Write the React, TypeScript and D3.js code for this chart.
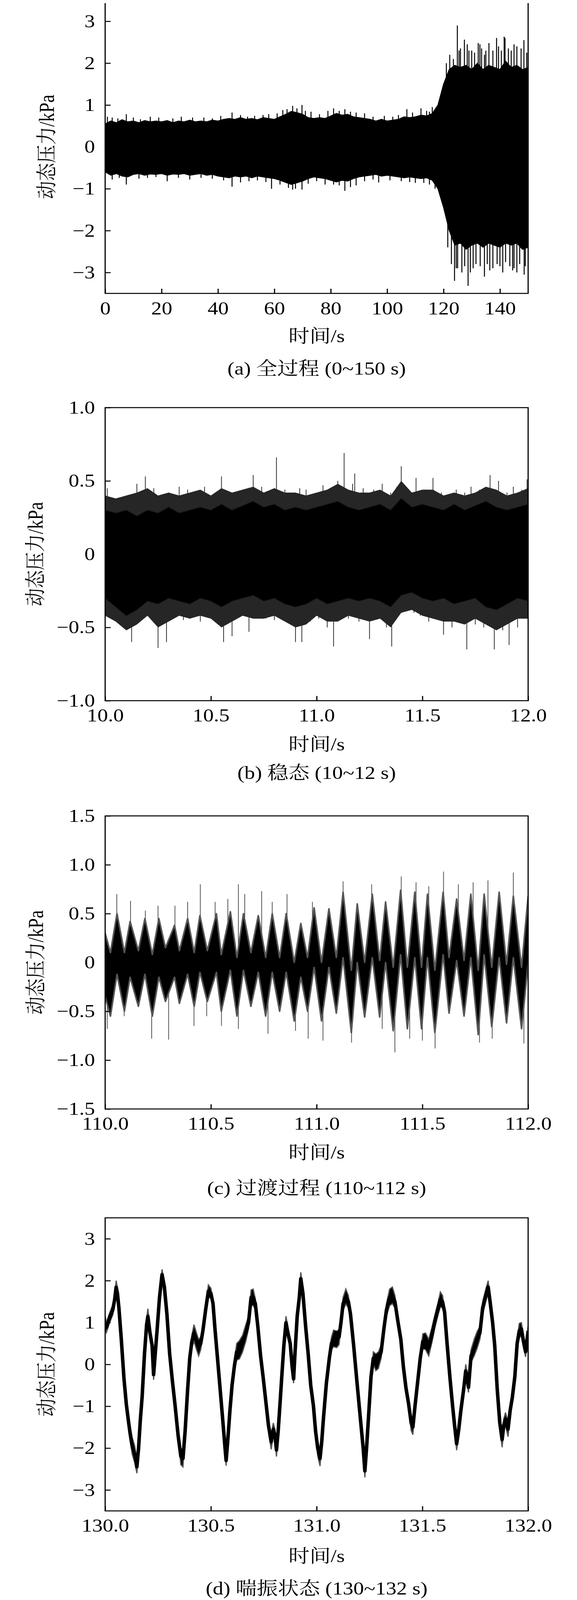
import { useEffect, useRef } from 'react'
import * as d3 from 'd3'

// ---------- (a) full run 0~150 s : band envelope every 2 s ----------
const timeA = [0, 2, 4, 6, 8, 10, 12, 14, 16, 18, 20, 22, 24, 26, 28, 30, 32, 34, 36, 38, 40, 42, 44, 46, 48, 50, 52, 54, 56, 58, 60, 62, 64, 66, 68, 70, 72, 74, 76, 78, 80, 82, 84, 86, 88, 90, 92, 94, 96, 98, 100, 102, 104, 106, 108, 110, 112, 114, 116, 118, 120, 122, 124, 126, 128, 130, 132, 134, 136, 138, 140, 142, 144, 146, 148, 150]
const upperA = [0.55, 0.62, 0.58, 0.65, 0.6, 0.62, 0.58, 0.63, 0.6, 0.62, 0.6, 0.63, 0.58, 0.62, 0.6, 0.64, 0.6, 0.62, 0.6, 0.64, 0.62, 0.66, 0.68, 0.66, 0.7, 0.66, 0.68, 0.65, 0.7, 0.68, 0.66, 0.72, 0.78, 0.85, 0.82, 0.78, 0.7, 0.68, 0.7, 0.68, 0.74, 0.8, 0.76, 0.78, 0.72, 0.7, 0.68, 0.66, 0.62, 0.66, 0.62, 0.64, 0.66, 0.72, 0.7, 0.72, 0.76, 0.74, 0.8, 1.0, 1.5, 1.85, 1.95, 1.9, 1.95, 1.85, 2.0, 1.85, 1.95, 1.9, 1.85, 2.05, 1.9, 1.95, 1.85, 1.9]
const lowerA = [-0.6, -0.68, -0.64, -0.7, -0.72, -0.66, -0.64, -0.68, -0.65, -0.66, -0.64, -0.68, -0.65, -0.66, -0.64, -0.68, -0.66, -0.64, -0.68, -0.66, -0.7, -0.72, -0.74, -0.7, -0.72, -0.7, -0.74, -0.7, -0.72, -0.74, -0.76, -0.8, -0.85, -0.9, -0.86, -0.82, -0.76, -0.72, -0.74, -0.76, -0.8, -0.84, -0.8, -0.82, -0.76, -0.72, -0.7, -0.68, -0.66, -0.7, -0.68, -0.7, -0.72, -0.74, -0.72, -0.74, -0.76, -0.74, -0.8, -1.0, -1.45, -2.0, -2.35, -2.3, -2.45, -2.35, -2.3, -2.4, -2.3, -2.35, -2.4, -2.3, -2.35, -2.3, -2.45, -2.4]
const spikesA = [
  [0.8, 0.72], [2.5, 0.7], [4.5, 0.68], [7.5, 0.78], [10, 0.7], [12.5, 0.66], [16, 0.72], [19, 0.7], [24, 0.68], [27, 0.72], [31, 0.7], [35, 0.7], [38, 0.68], [41, 0.74], [45, 0.82], [48, 0.76], [50.5, 0.72], [53, 0.74], [56, 0.76], [58, 0.78], [61, 0.8], [63, 0.88], [64.5, 0.9], [66.5, 0.98], [68, 0.92], [69.8, 1.0], [71, 0.86], [73, 0.84], [76, 0.78], [79, 0.86], [81, 0.92], [83, 0.86], [85, 0.9], [87, 0.84], [89, 0.82], [92, 0.8], [95, 0.72], [99, 0.74], [102, 0.72], [104, 0.76], [107, 0.9], [109, 0.82], [112, 0.92], [114, 0.86], [115, 0.84], [116, 0.95],
  [121, 2.0], [122.2, 2.2], [123.5, 2.1], [124.9, 2.9], [125.5, 2.3], [126, 2.35], [127.4, 2.56], [128.4, 2.45], [129, 2.3], [130, 2.3], [131, 2.25], [132.3, 2.48], [132.9, 2.45], [133.5, 2.35], [134.5, 2.2], [135, 2.3], [136.1, 2.48], [137.5, 2.3], [138.8, 2.6], [139.5, 2.4], [140.5, 2.3], [141.5, 2.63], [141.8, 2.6], [143, 2.35], [144, 2.3], [145, 2.45], [146, 2.4], [147.5, 2.35], [148.5, 2.55], [149.5, 2.25],
  [2.5, -0.78], [5, -0.74], [7.5, -0.9], [12, -0.76], [15, -0.74], [18, -0.72], [22, -0.82], [26, -0.74], [30, -0.78], [34, -0.74], [38, -0.76], [42, -0.8], [45, -0.95], [48, -0.85], [51, -0.82], [54, -0.8], [57, -0.84], [59, -1.0], [62, -0.9], [65, -0.98], [66.5, -1.02], [67.5, -1.0], [69.8, -1.02], [72, -0.88], [75, -0.82], [78, -0.9], [81, -0.9], [83, -0.92], [85, -1.05], [87, -0.96], [89, -0.92], [92, -0.82], [95, -0.78], [97, -0.85], [101, -0.8], [105, -0.82], [108, -0.84], [110, -0.86], [113, -0.86], [115, -0.9], [117, -1.0],
  [121.5, -2.4], [122.8, -2.8], [123.9, -3.2], [124.5, -2.9], [125, -2.9], [126.5, -3.0], [127.5, -2.85], [128.7, -3.32], [129.5, -3.0], [130.5, -2.9], [131.5, -2.8], [133, -2.85], [134.5, -3.1], [135.5, -2.8], [136.4, -2.95], [137.5, -2.9], [139, -2.8], [140, -2.85], [141, -3.0], [142, -2.75], [143.5, -2.85], [144.5, -2.95], [145, -2.9], [146, -3.0], [147, -2.8], [148.6, -3.05], [149, -2.85],
]

// ---------- (b) steady state 10~12 s : core and fringe envelope every 0.05 s ----------
const timeB = [10.0, 10.05, 10.1, 10.15, 10.2, 10.25, 10.3, 10.35, 10.4, 10.45, 10.5, 10.55, 10.6, 10.65, 10.7, 10.75, 10.8, 10.85, 10.9, 10.95, 11.0, 11.05, 11.1, 11.15, 11.2, 11.25, 11.3, 11.35, 11.4, 11.45, 11.5, 11.55, 11.6, 11.65, 11.7, 11.75, 11.8, 11.85, 11.9, 11.95, 12.0]
const upperB = [0.3, 0.28, 0.3, 0.26, 0.3, 0.28, 0.32, 0.28, 0.3, 0.32, 0.3, 0.34, 0.3, 0.33, 0.36, 0.32, 0.34, 0.3, 0.32, 0.3, 0.32, 0.34, 0.36, 0.32, 0.3, 0.32, 0.34, 0.3, 0.38, 0.32, 0.34, 0.32, 0.3, 0.34, 0.3, 0.33, 0.36, 0.32, 0.3, 0.32, 0.34]
const lowerB = [-0.3, -0.36, -0.42, -0.38, -0.32, -0.34, -0.3, -0.32, -0.34, -0.3, -0.32, -0.36, -0.32, -0.3, -0.28, -0.32, -0.3, -0.34, -0.36, -0.34, -0.3, -0.34, -0.32, -0.3, -0.32, -0.3, -0.32, -0.36, -0.28, -0.26, -0.3, -0.32, -0.3, -0.34, -0.32, -0.3, -0.36, -0.38, -0.34, -0.3, -0.32]
const fringeUpB = [0.4, 0.38, 0.4, 0.42, 0.45, 0.4, 0.42, 0.4, 0.42, 0.44, 0.4, 0.45, 0.42, 0.44, 0.46, 0.42, 0.45, 0.42, 0.42, 0.4, 0.42, 0.44, 0.48, 0.44, 0.42, 0.42, 0.44, 0.4, 0.5, 0.42, 0.44, 0.44, 0.4, 0.42, 0.4, 0.42, 0.46, 0.44, 0.4, 0.42, 0.45]
const fringeLoB = [-0.42, -0.46, -0.52, -0.48, -0.42, -0.5, -0.46, -0.42, -0.44, -0.42, -0.44, -0.5, -0.46, -0.42, -0.44, -0.44, -0.42, -0.46, -0.5, -0.48, -0.42, -0.46, -0.46, -0.42, -0.44, -0.46, -0.44, -0.5, -0.4, -0.38, -0.42, -0.44, -0.46, -0.46, -0.48, -0.44, -0.48, -0.52, -0.48, -0.44, -0.44]
const spikesB = [
  [10.01, 0.45], [10.04, 0.38], [10.08, 0.36], [10.12, 0.32], [10.15, 0.48], [10.19, 0.53], [10.23, 0.45], [10.27, 0.4], [10.3, 0.42], [10.35, 0.46], [10.39, 0.44], [10.43, 0.38], [10.47, 0.46], [10.51, 0.4], [10.55, 0.53], [10.58, 0.4], [10.62, 0.42], [10.66, 0.44], [10.7, 0.54], [10.74, 0.46], [10.78, 0.42], [10.81, 0.66], [10.85, 0.44], [10.88, 0.4], [10.92, 0.45], [10.95, 0.44], [10.99, 0.4], [11.03, 0.47], [11.07, 0.4], [11.1, 0.5], [11.13, 0.69], [11.17, 0.48], [11.18, 0.55], [11.22, 0.45], [11.27, 0.44], [11.31, 0.48], [11.35, 0.42], [11.38, 0.46], [11.4, 0.6], [11.44, 0.42], [11.47, 0.52], [11.51, 0.44], [11.55, 0.52], [11.59, 0.42], [11.62, 0.4], [11.66, 0.44], [11.7, 0.42], [11.73, 0.46], [11.77, 0.44], [11.82, 0.54], [11.86, 0.5], [11.9, 0.42], [11.93, 0.46], [11.97, 0.44], [11.995, 0.51],
  [10.02, -0.38], [10.06, -0.45], [10.1, -0.5], [10.125, -0.6], [10.17, -0.45], [10.21, -0.4], [10.25, -0.64], [10.29, -0.6], [10.33, -0.42], [10.37, -0.45], [10.41, -0.4], [10.45, -0.46], [10.49, -0.42], [10.53, -0.44], [10.56, -0.6], [10.6, -0.56], [10.64, -0.4], [10.68, -0.53], [10.72, -0.42], [10.76, -0.44], [10.8, -0.45], [10.83, -0.4], [10.87, -0.45], [10.9, -0.6], [10.93, -0.6], [10.97, -0.46], [11.01, -0.44], [11.05, -0.5], [11.08, -0.63], [11.12, -0.42], [11.15, -0.44], [11.2, -0.46], [11.25, -0.58], [11.29, -0.44], [11.33, -0.5], [11.355, -0.63], [11.39, -0.4], [11.42, -0.36], [11.46, -0.4], [11.49, -0.42], [11.53, -0.46], [11.57, -0.44], [11.6, -0.55], [11.64, -0.5], [11.68, -0.46], [11.71, -0.65], [11.75, -0.48], [11.79, -0.5], [11.84, -0.65], [11.88, -0.52], [11.91, -0.62], [11.95, -0.5], [11.98, -0.44],
]

// ---------- (c) transition 110~112 s : band at each crest / trough ----------
const timeC = [110.0, 110.025, 110.056, 110.091, 110.118, 110.157, 110.188, 110.223, 110.254, 110.285, 110.328, 110.351, 110.39, 110.421, 110.448, 110.483, 110.526, 110.549, 110.592, 110.623, 110.654, 110.689, 110.724, 110.759, 110.79, 110.825, 110.856, 110.894, 110.925, 110.957, 110.988, 111.023, 111.058, 111.093, 111.125, 111.164, 111.192, 111.227, 111.263, 111.298, 111.326, 111.362, 111.397, 111.429, 111.464, 111.496, 111.524, 111.559, 111.598, 111.626, 111.662, 111.697, 111.729, 111.764, 111.792, 111.828, 111.863, 111.898, 111.93, 111.969, 112.0]
const upperC = [0.3, 0.1, 0.5, 0.1, 0.42, 0.12, 0.45, 0.08, 0.45, 0.15, 0.38, 0.12, 0.45, 0.1, 0.48, 0.12, 0.5, 0.08, 0.52, 0.05, 0.5, 0.1, 0.48, 0.05, 0.5, 0.05, 0.5, 0.0, 0.4, 0.05, 0.56, 0.0, 0.55, 0.05, 0.72, -0.08, 0.6, 0.0, 0.7, 0.02, 0.62, -0.05, 0.74, -0.05, 0.72, -0.05, 0.7, -0.08, 0.72, 0.05, 0.65, 0.02, 0.7, -0.08, 0.7, -0.05, 0.72, -0.02, 0.68, -0.05, 0.68]
const lowerC = [-0.35, -0.55, -0.12, -0.5, -0.15, -0.45, -0.12, -0.55, -0.15, -0.4, -0.15, -0.42, -0.12, -0.45, -0.1, -0.4, -0.1, -0.5, -0.08, -0.55, -0.08, -0.45, -0.1, -0.55, -0.1, -0.5, -0.1, -0.6, -0.15, -0.5, -0.05, -0.6, -0.05, -0.52, 0.05, -0.72, 0.0, -0.56, 0.05, -0.56, 0.0, -0.7, 0.08, -0.68, 0.05, -0.68, 0.05, -0.72, 0.08, -0.52, 0.02, -0.55, 0.05, -0.74, 0.08, -0.66, 0.05, -0.62, 0.05, -0.68, 0.0]
const spikesC = [
  [110.055, 0.7], [110.12, 0.63], [110.19, 0.53], [110.25, 0.58], [110.33, 0.58], [110.39, 0.62], [110.45, 0.8], [110.52, 0.62], [110.58, 0.65], [110.63, 0.8], [110.66, 0.7], [110.74, 0.73], [110.79, 0.62], [110.86, 0.7], [110.98, 0.62], [111.125, 0.83], [111.26, 0.8], [111.4, 0.88], [111.47, 0.82], [111.53, 0.78], [111.6, 0.93], [111.67, 0.8], [111.74, 0.82], [111.81, 0.84], [111.93, 0.92],
  [110.01, -0.68], [110.09, -0.55], [110.22, -0.78], [110.3, -0.79], [110.42, -0.65], [110.48, -0.55], [110.55, -0.65], [110.63, -0.68], [110.77, -0.73], [110.9, -0.7], [110.96, -0.78], [111.03, -0.8], [111.165, -0.82], [111.31, -0.68], [111.37, -0.92], [111.44, -0.78], [111.5, -0.8], [111.56, -0.88], [111.77, -0.82], [111.83, -0.78], [111.98, -0.83],
]

// ---------- (d) surge 130~132 s : centre trace and half-thickness ----------
const timeD = [130.0, 130.006, 130.02, 130.036, 130.045, 130.052, 130.058, 130.065, 130.076, 130.089, 130.1, 130.11, 130.118, 130.128, 130.14, 130.15, 130.158, 130.166, 130.175, 130.186, 130.196, 130.202, 130.212, 130.222, 130.229, 130.236, 130.246, 130.257, 130.269, 130.28, 130.292, 130.305, 130.318, 130.33, 130.345, 130.358, 130.368, 130.378, 130.39, 130.4, 130.41, 130.42, 130.432, 130.442, 130.452, 130.462, 130.475, 130.488, 130.5, 130.51, 130.52, 130.532, 130.545, 130.558, 130.566, 130.572, 130.58, 130.59, 130.6, 130.612, 130.622, 130.635, 130.65, 130.665, 130.678, 130.69, 130.7, 130.71, 130.722, 130.735, 130.748, 130.76, 130.772, 130.785, 130.795, 130.803, 130.81, 130.818, 130.826, 130.835, 130.845, 130.855, 130.862, 130.875, 130.884, 130.891, 130.898, 130.908, 130.918, 130.925, 130.935, 130.948, 130.96, 130.972, 130.985, 130.995, 131.005, 131.016, 131.024, 131.032, 131.046, 131.06, 131.07, 131.08, 131.095, 131.106, 131.115, 131.125, 131.138, 131.15, 131.16, 131.175, 131.191, 131.208, 131.22, 131.228, 131.236, 131.246, 131.257, 131.268, 131.28, 131.292, 131.305, 131.318, 131.33, 131.345, 131.358, 131.37, 131.385, 131.398, 131.41, 131.422, 131.435, 131.447, 131.455, 131.465, 131.478, 131.49, 131.502, 131.515, 131.53, 131.545, 131.56, 131.575, 131.585, 131.595, 131.605, 131.617, 131.63, 131.642, 131.652, 131.662, 131.672, 131.682, 131.695, 131.705, 131.712, 131.718, 131.73, 131.745, 131.76, 131.772, 131.785, 131.8, 131.811, 131.82, 131.832, 131.842, 131.854, 131.866, 131.877, 131.885, 131.893, 131.905, 131.915, 131.925, 131.937, 131.948, 131.958, 131.968, 131.978, 131.988, 132.0]
const centreD = [1.0, 0.88, 1.1, 1.3, 1.55, 1.85, 1.7, 1.35, 0.62, -0.34, -0.95, -1.35, -1.65, -1.95, -2.15, -2.45, -2.0, -1.35, -0.76, 0.25, 0.95, 1.15, 0.75, 0.45, -0.25, 0.2, 0.85, 1.6, 2.15, 1.85, 1.2, 0.25, -0.4, -0.95, -1.7, -2.2, -2.25, -1.6, -0.6, 0.15, 0.55, 0.75, 0.55, 0.4, 0.5, 0.8, 1.3, 1.75, 1.7, 1.45, 0.8, 0.1, -0.67, -1.45, -1.95, -2.3, -1.8, -1.1, -0.5, 0.0, 0.3, 0.35, 0.5, 0.75, 1.0, 1.6, 1.6, 1.45, 0.9, 0.2, -0.35, -0.9, -1.45, -1.85, -1.55, -1.7, -2.05, -1.6, -1.0, -0.3, 0.45, 1.0, 0.8, 0.5, -0.05, -0.35, 0.3, 1.15, 1.6, 2.05, 1.7, 0.9, 0.25, -0.5, -1.0, -1.6, -2.0, -2.25, -1.85, -1.3, -0.45, 0.15, 0.5, 0.62, 0.6, 0.65, 1.0, 1.45, 1.62, 1.5, 1.2, 0.45, -0.44, -1.36, -2.0, -2.55, -2.0, -1.2, -0.3, 0.15, 0.05, 0.1, 0.3, 0.85, 1.3, 1.6, 1.65, 1.5, 1.0, 0.6, -0.05, -0.55, -0.95, -1.4, -1.5, -1.0, -0.4, 0.15, 0.55, 0.55, 0.4, 0.7, 1.05, 1.35, 1.55, 1.5, 1.25, 0.48, -0.3, -0.95, -1.45, -1.9, -1.55, -1.1, -0.6, -0.15, -0.35, -0.55, 0.2, 0.4, 0.6, 0.75, 1.35, 1.65, 1.85, 1.5, 1.0, 0.45, -0.6, -1.4, -1.8, -1.45, -1.3, -1.55, -1.1, -0.8, -0.3, 0.5, 0.8, 0.85, 0.55, 0.3, 0.8]
const spreadD = [0.15, 0.12, 0.12, 0.12, 0.12, 0.15, 0.12, 0.08, 0.06, 0.06, 0.1, 0.15, 0.18, 0.2, 0.2, 0.15, 0.1, 0.08, 0.06, 0.06, 0.15, 0.18, 0.15, 0.1, 0.12, 0.08, 0.06, 0.08, 0.12, 0.08, 0.06, 0.08, 0.12, 0.15, 0.12, 0.2, 0.2, 0.1, 0.08, 0.08, 0.15, 0.2, 0.2, 0.2, 0.15, 0.1, 0.1, 0.15, 0.12, 0.1, 0.08, 0.08, 0.08, 0.1, 0.15, 0.12, 0.1, 0.08, 0.1, 0.15, 0.2, 0.22, 0.2, 0.2, 0.15, 0.18, 0.2, 0.12, 0.08, 0.08, 0.08, 0.1, 0.15, 0.18, 0.15, 0.15, 0.15, 0.1, 0.12, 0.1, 0.12, 0.15, 0.15, 0.12, 0.12, 0.1, 0.08, 0.1, 0.12, 0.15, 0.1, 0.08, 0.1, 0.1, 0.15, 0.15, 0.18, 0.18, 0.12, 0.1, 0.1, 0.12, 0.15, 0.2, 0.2, 0.18, 0.12, 0.15, 0.18, 0.15, 0.1, 0.08, 0.08, 0.08, 0.1, 0.15, 0.1, 0.08, 0.1, 0.15, 0.2, 0.2, 0.15, 0.15, 0.15, 0.2, 0.2, 0.15, 0.1, 0.08, 0.08, 0.1, 0.15, 0.18, 0.18, 0.12, 0.1, 0.1, 0.18, 0.2, 0.2, 0.18, 0.15, 0.15, 0.18, 0.15, 0.1, 0.08, 0.08, 0.12, 0.15, 0.15, 0.12, 0.15, 0.15, 0.15, 0.12, 0.12, 0.15, 0.2, 0.2, 0.15, 0.15, 0.15, 0.15, 0.1, 0.08, 0.08, 0.1, 0.15, 0.18, 0.15, 0.15, 0.18, 0.15, 0.12, 0.1, 0.12, 0.18, 0.15, 0.15, 0.12, 0.12]

// ---------- ticks and labels ----------
const xTicksA = [0, 20, 40, 60, 80, 100, 120, 140]
const xTicksB = [10.0, 10.5, 11.0, 11.5, 12.0]
const xTicksC = [110.0, 110.5, 111.0, 111.5, 112.0]
const xTicksD = [130.0, 130.5, 131.0, 131.5, 132.0]
const yTicksA = [-3, -2, -1, 0, 1, 2, 3]
const yTicksB = [-1.0, -0.5, 0, 0.5, 1.0]
const yTicksC = [-1.5, -1.0, -0.5, 0, 0.5, 1.0, 1.5]
const yTicksD = [-3, -2, -1, 0, 1, 2, 3]
const captions = ['(a) 全过程 (0~150 s)', '(b) 稳态 (10~12 s)', '(c) 过渡过程 (110~112 s)', '(d) 喘振状态 (130~132 s)']
const xLabel = '时间/s'
const yLabel = '动态压力/kPa'

const FONT = "'Times New Roman', 'Liberation Serif', 'Noto Serif CJK SC', 'Noto Sans CJK SC', serif"
const FS = 54
const W = 1476
const H = 4777
// the photographed page is at most 4096 px tall, so the 4777-high layout is fitted into it
const OUT_H = 4096
const LEFT = 269
const RIGHT = 1351
const PH = 875

const minus = (s: string) => s.replace('-', '\u2212')
const fmtInt = (d: number) => minus(String(d))
const fmtY1 = (d: number) => (d === 0 ? '0' : minus(d.toFixed(1)))
const fmtX1 = (d: number) => d.toFixed(1)

export default function App() {
  const svgRef = useRef<SVGSVGElement>(null)

  useEffect(() => {
    const svg = d3.select(svgRef.current)
    svg.selectAll('*').remove()
    svg.append('rect').attr('width', W).attr('height', H).attr('fill', '#fff')

    const panels = [
      { top: 1, xd: [0, 150], yd: [-3.5, 3.5], xt: xTicksA, yt: yTicksA, xf: fmtInt, yf: fmtInt, ylx: 120, xlOff: 127, capOff: 224, kind: 'a' },
      { top: 1217, xd: [10, 12], yd: [-1, 1], xt: xTicksB, yt: yTicksB, xf: fmtX1, yf: fmtY1, ylx: 91, xlOff: 130, capOff: 215, kind: 'b' },
      { top: 2436, xd: [110, 112], yd: [-1.5, 1.5], xt: xTicksC, yt: yTicksC, xf: fmtX1, yf: fmtY1, ylx: 92, xlOff: 130, capOff: 236, kind: 'c' },
      { top: 3636, xd: [130, 132], yd: [-3.5, 3.5], xt: xTicksD, yt: yTicksD, xf: fmtX1, yf: fmtInt, ylx: 120, xlOff: 135, capOff: 232, kind: 'd' },
    ]

    panels.forEach((p, i) => {
      const bottom = p.top + PH
      const x = d3.scaleLinear().domain(p.xd).range([LEFT, RIGHT])
      const y = d3.scaleLinear().domain(p.yd).range([bottom, p.top])
      const g = svg.append('g')

      const clipId = `clip-${p.kind}`
      g.append('clipPath').attr('id', clipId).append('rect')
        .attr('x', LEFT).attr('y', p.top).attr('width', RIGHT - LEFT).attr('height', PH)
      const plot = g.append('g').attr('clip-path', `url(#${clipId})`)

      const drawSpikes = (list: number[][], color: string, w: number) => {
        plot.append('g').selectAll('line').data(list).enter().append('line')
          .attr('x1', (d) => x(d[0])).attr('x2', (d) => x(d[0]))
          .attr('y1', y(0)).attr('y2', (d) => y(d[1]))
          .attr('stroke', color).attr('stroke-width', w)
      }

      if (p.kind === 'a') {
        const area = d3.area<number>().x((d, j) => x(timeA[j])).y0((d, j) => y(lowerA[j])).y1((d) => y(d))
        drawSpikes(spikesA, '#000', 2.5)
        plot.append('path').datum(upperA).attr('d', area).attr('fill', '#000').attr('stroke', '#000').attr('stroke-width', 2)
      }
      if (p.kind === 'b') {
        drawSpikes(spikesB, '#333', 2)
        const fringe = d3.area<number>().x((d, j) => x(timeB[j])).y0((d, j) => y(fringeLoB[j])).y1((d) => y(d))
        plot.append('path').datum(fringeUpB).attr('d', fringe).attr('fill', '#262626')
        const area = d3.area<number>().x((d, j) => x(timeB[j])).y0((d, j) => y(lowerB[j])).y1((d) => y(d))
        plot.append('path').datum(upperB).attr('d', area).attr('fill', '#000').attr('stroke', '#111').attr('stroke-width', 2)
      }
      if (p.kind === 'c') {
        drawSpikes(spikesC, '#555', 2)
        const area = d3.area<number>().x((d, j) => x(timeC[j])).y0((d, j) => y(lowerC[j])).y1((d) => y(d))
        plot.append('path').datum(upperC).attr('d', area).attr('fill', '#000').attr('stroke', '#555').attr('stroke-width', 4)
          .attr('stroke-linejoin', 'round')
      }
      if (p.kind === 'd') {
        const area = d3.area<number>().x((d, j) => x(timeD[j]))
          .y0((d, j) => y(d - spreadD[j])).y1((d, j) => y(d + spreadD[j]))
        plot.append('path').datum(centreD).attr('d', area).attr('fill', '#000').attr('stroke', '#555').attr('stroke-width', 3)
        const line = d3.line<number>().x((d, j) => x(timeD[j])).y((d) => y(d))
        plot.append('path').datum(centreD).attr('d', line).attr('fill', 'none').attr('stroke', '#000').attr('stroke-width', 9)
          .attr('stroke-linejoin', 'round')
      }

      // axes with inward ticks
      const xAxis = d3.axisBottom(x).tickValues(p.xt).tickFormat(p.xf).tickSizeInner(-14).tickSizeOuter(0).tickPadding(24)
      const gx = g.append('g').attr('transform', `translate(0,${bottom})`).call(xAxis)
      const yAxis = d3.axisLeft(y).tickValues(p.yt).tickFormat(p.yf).tickSizeInner(-14).tickSizeOuter(0).tickPadding(26)
      const gy = g.append('g').attr('transform', `translate(${LEFT},0)`).call(yAxis)
      ;[gx, gy].forEach((ax) => {
        ax.select('.domain').remove()
        ax.selectAll('line').attr('stroke', '#000').attr('stroke-width', 3)
        ax.selectAll('text').attr('font-family', FONT).attr('font-size', FS).attr('fill', '#000')
      })

      // frame
      g.append('rect').attr('x', LEFT).attr('y', p.top).attr('width', RIGHT - LEFT).attr('height', PH)
        .attr('fill', 'none').attr('stroke', '#000').attr('stroke-width', 3)

      const cx = (LEFT + RIGHT) / 2
      g.append('text').attr('x', cx).attr('y', bottom + p.xlOff).attr('dominant-baseline', 'central')
        .attr('text-anchor', 'middle').attr('font-family', FONT).attr('font-size', FS).text(xLabel)
      g.append('text').attr('x', cx).attr('y', bottom + p.capOff).attr('dominant-baseline', 'central')
        .attr('text-anchor', 'middle').attr('font-family', FONT).attr('font-size', FS).text(captions[i])
      g.append('text').attr('transform', `translate(${p.ylx},${p.top + PH / 2}) rotate(-90)`)
        .attr('dominant-baseline', 'central').attr('text-anchor', 'middle')
        .attr('font-family', FONT).attr('font-size', FS).text(yLabel)
    })
  }, [])

  return (
    <svg
      ref={svgRef}
      width={W}
      height={OUT_H}
      viewBox={`0 0 ${W} ${H}`}
      preserveAspectRatio="none"
      style={{ display: 'block', margin: '-8px 0 0 -8px' }}
    ></svg>
  )
}
